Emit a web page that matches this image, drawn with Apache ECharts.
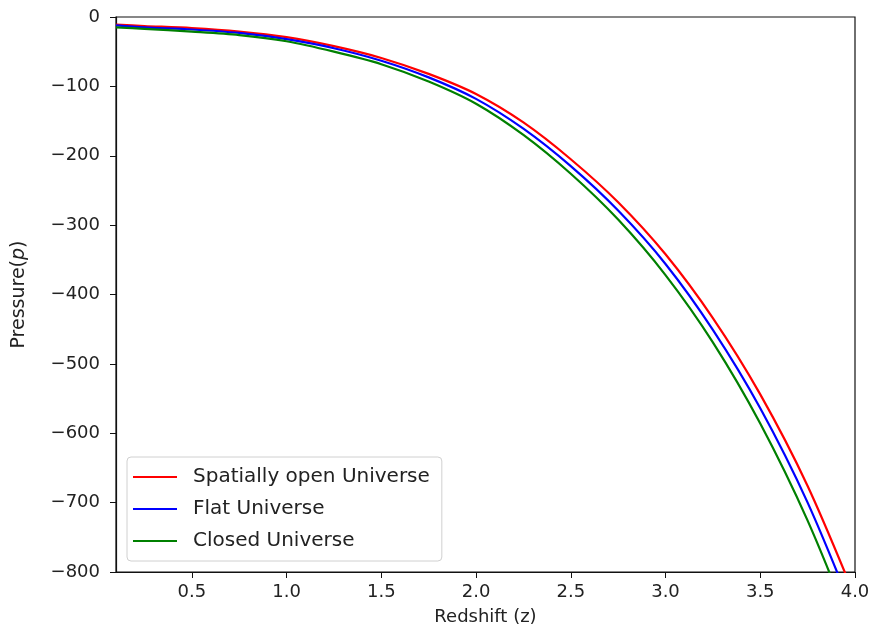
<!DOCTYPE html>
<html>
<head>
<meta charset="utf-8">
<script src="https://cdn.jsdelivr.net/npm/echarts@6/dist/echarts.min.js"></script>
<style>
  html, body { margin: 0; padding: 0; background: #fff; }
  #chart { width: 877px; height: 642px; }
</style>
</head>
<body>
<div id="chart"></div>
<script>
// Redshift samples
const redshift = [0.1, 0.25, 0.5, 0.75, 1.0, 1.25, 1.5, 1.75, 2.0, 2.25, 2.5, 2.75, 3.0, 3.25, 3.5, 3.75, 4.0];
// Pressure for each model
const pressureOpen   = [-11, -13, -16, -21, -29, -42, -59, -82, -111, -152, -205, -267, -342, -434, -544, -676, -836];
const pressureFlat   = [-12, -15, -18, -23, -32, -45, -63, -87, -118, -161, -215, -279, -356, -451, -564, -700, -864];
const pressureClosed = [-15, -17, -21, -26, -35, -50, -68, -93, -125, -170, -226, -292, -372, -469, -586, -726, -893];
// Tick labels
const xTicks = [0.5, 1.0, 1.5, 2.0, 2.5, 3.0, 3.5, 4.0];
const seriesNames = ['Spatially open Universe', 'Flat Universe', 'Closed Universe'];
const seriesColors = ['#ff0000', '#0000ff', '#008000'];

const FONT = 'DejaVu Sans';
const TEXT = '#222';
const pairs = vals => redshift.map((z, i) => [z, vals[i]]);
const minus = v => String(v).replace('-', '\u2212');

const chart = echarts.init(document.getElementById('chart'), null, { renderer: 'canvas' });
chart.setOption({
  animation: false,
  backgroundColor: '#fff',
  grid: {
    left: 116, top: 17, right: 22, bottom: 70,
    show: true, borderColor: '#111', borderWidth: 1.2, backgroundColor: 'transparent'
  },
  xAxis: {
    type: 'value',
    min: 0.1, max: 4.0,
    name: 'Redshift (z)',
    nameLocation: 'middle',
    nameGap: 36,
    nameTextStyle: { fontFamily: FONT, fontSize: 18, color: TEXT },
    axisLine: { show: true, onZero: false, lineStyle: { color: '#111', width: 1.2 } },
    axisTick: { show: true, customValues: xTicks, length: 6, lineStyle: { color: '#111' } },
    axisLabel: {
      customValues: xTicks,
      formatter: v => v.toFixed(1),
      fontFamily: FONT, fontSize: 18, color: TEXT, margin: 11
    },
    splitLine: { show: false }
  },
  yAxis: {
    type: 'value',
    min: -800, max: 0, interval: 100,
    name: '{n|Pressure(}{i|p}{n|)}',
    nameLocation: 'middle',
    nameGap: 87,
    nameRotate: 90,
    nameTextStyle: {
      rich: {
        n: { fontFamily: FONT, fontSize: 19, color: TEXT },
        i: { fontFamily: FONT, fontSize: 19, color: TEXT, fontStyle: 'italic' }
      }
    },
    axisLine: { show: true, onZero: false, lineStyle: { color: '#111', width: 1.2 } },
    axisTick: { show: true, length: 6, lineStyle: { color: '#111' } },
    axisLabel: {
      formatter: v => minus(v),
      fontFamily: FONT, fontSize: 18, color: TEXT, margin: 16
    },
    splitLine: { show: false }
  },
  legend: {
    orient: 'vertical',
    left: 127, top: 457,
    data: seriesNames,
    icon: 'rect',
    itemWidth: 44, itemHeight: 2,
    itemGap: 8,
    padding: [8, 12, 8, 6],
    backgroundColor: 'rgba(255,255,255,0.85)',
    borderColor: '#d0d0d0', borderWidth: 1, borderRadius: 4,
    textStyle: { fontFamily: FONT, fontSize: 20, color: TEXT, lineHeight: 24, padding: [0, 0, 0, 11] }
  },
  series: [pressureOpen, pressureFlat, pressureClosed].map((vals, i) => ({
    name: seriesNames[i],
    type: 'line',
    data: pairs(vals),
    showSymbol: false,
    smooth: 0.3,
    clip: true,
    color: seriesColors[i],
    lineStyle: { color: seriesColors[i], width: 2.2 }
  }))
});
</script>
</body>
</html>
